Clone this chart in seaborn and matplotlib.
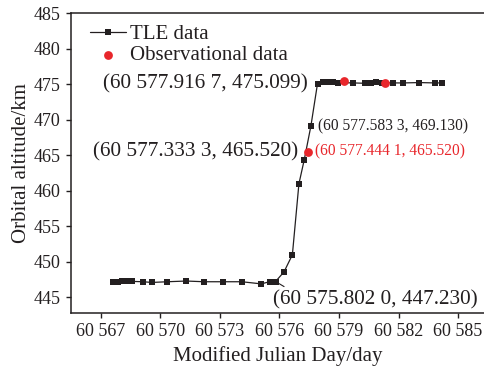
"""Orbital altitude of the satellite: TLE vs observational data."""

import matplotlib

matplotlib.use("Agg")
import matplotlib.pyplot as plt
import pandas as pd
import seaborn as sns

tle_day = [60567.62, 60567.85, 60568.08, 60568.30, 60568.55, 60569.13, 60569.56,
           60570.35, 60571.30, 60572.20, 60573.17, 60574.10, 60575.08, 60575.50,
           60575.802, 60576.23, 60576.65, 60576.98, 60577.25, 60577.5833,
           60577.9167, 60578.19, 60578.45, 60578.70, 60578.95, 60579.72,
           60580.31, 60580.62, 60580.87, 60581.16, 60581.74, 60582.25,
           60583.05, 60583.85, 60584.20]
tle_alt = [447.2, 447.2, 447.25, 447.25, 447.25, 447.2, 447.1,
           447.2, 447.3, 447.2, 447.2, 447.2, 446.9, 447.2,
           447.23, 448.6, 451.0, 461.0, 464.4, 469.13,
           475.099, 475.35, 475.35, 475.3, 475.25, 475.2,
           475.15, 475.25, 475.3, 475.25, 475.2, 475.2,
           475.25, 475.2, 475.2]

obs_day = [60577.4441, 60579.27, 60581.32]
obs_alt = [465.52, 475.45, 475.15]

x_ticks = [60567, 60570, 60573, 60576, 60579, 60582, 60585]
x_tick_labels = ["60 567", "60 570", "60 573", "60 576", "60 579", "60 582", "60 585"]
y_ticks = [445, 450, 455, 460, 465, 470, 475, 480, 485]

INK = "#231f20"
RED = "#e8262b"

sns.set_theme(style="ticks")
plt.rcParams["font.family"] = ["Liberation Serif", "DejaVu Serif"]

tle = pd.DataFrame({"day": tle_day, "alt": tle_alt})
obs = pd.DataFrame({"day": obs_day, "alt": obs_alt})

fig = plt.figure(figsize=(4.84, 3.69), dpi=100)
ax = fig.add_axes([0.1467, 0.1518, 0.8533, 0.813])

sns.lineplot(data=tle, x="day", y="alt", ax=ax, color=INK, lw=0.9,
             marker="s", markersize=5, markeredgewidth=0, label="TLE data",
             estimator=None, sort=False)
sns.scatterplot(data=obs, x="day", y="alt", ax=ax, color=RED, s=40,
                linewidth=0, label="Observational data", zorder=5)

ax.set_xlim(60565.49, 60586.31)
ax.set_ylim(442.8, 485.05)
ax.set_xticks(x_ticks)
ax.set_xticklabels(x_tick_labels)
ax.set_yticks(y_ticks)
ax.tick_params(direction="out", length=3.5, width=1, colors=INK, labelsize=13,
               pad=4)
for side in ("left", "bottom", "top"):
    ax.spines[side].set_color(INK)
    ax.spines[side].set_linewidth(1.1)
ax.spines["right"].set_visible(False)

ax.set_xlabel("Modified Julian Day/day", fontsize=15, color=INK, labelpad=4)
ax.set_ylabel("Orbital altitude/km", fontsize=15, color=INK, labelpad=2)

big, small = 15.3, 11.2
ax.annotate("(60 577.916 7, 475.099)", xy=(60577.9167, 475.099),
            xytext=(-7, 0), textcoords="offset points", ha="right", va="center",
            fontsize=big, color=INK)
ax.annotate("(60 577.583 3, 469.130)", xy=(60577.5833, 469.13),
            xytext=(5, 0), textcoords="offset points", ha="left", va="center",
            fontsize=small, color=INK)
ax.annotate("(60 577.333 3, 465.520)", xy=(60577.3333, 465.52),
            xytext=(-5.5, 0), textcoords="offset points", ha="right", va="center",
            fontsize=big, color=INK)
ax.annotate("(60 577.444 1, 465.520)", xy=(60577.4441, 465.52),
            xytext=(5, 0), textcoords="offset points", ha="left", va="center",
            fontsize=small, color=RED)
ax.annotate("(60 575.802 0, 447.230)", xy=(60575.802, 447.23),
            xytext=(-2, -6), textcoords="offset points", ha="left", va="top",
            fontsize=big, color=INK,
            arrowprops=dict(arrowstyle="-", color=INK, lw=0.8,
                            shrinkA=0, shrinkB=3, relpos=(0.09, 0.95)))

leg = ax.legend(loc="upper left", bbox_to_anchor=(-0.005, 1.03), frameon=False,
                fontsize=15, handlelength=1.75, handletextpad=0.2,
                labelspacing=0.05, borderaxespad=0.6)
for t in leg.get_texts():
    t.set_color(INK)

fig.savefig("out.png", dpi=100, facecolor="white")
